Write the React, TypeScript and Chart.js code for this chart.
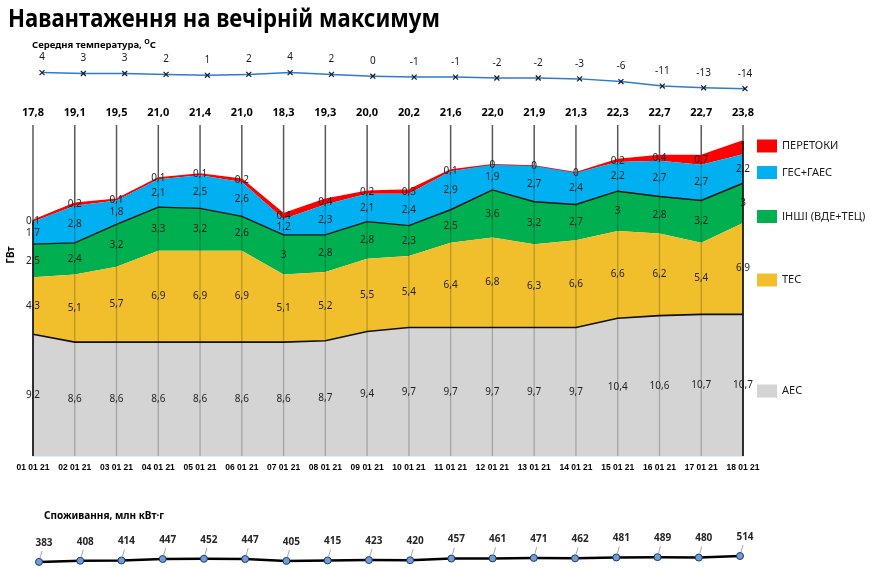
import React, { useEffect, useRef } from "react";
import { Chart, registerables } from "chart.js";

Chart.register(...registerables);

const dates = [
  "01 01 21", "02 01 21", "03 01 21", "04 01 21", "05 01 21", "06 01 21",
  "07 01 21", "08 01 21", "09 01 21", "10 01 21", "11 01 21", "12 01 21",
  "13 01 21", "14 01 21", "15 01 21", "16 01 21", "17 01 21", "18 01 21",
];
const temperature = [4, 3, 3, 2, 1, 2, 4, 2, 0, -1, -1, -2, -2, -3, -6, -11, -13, -14];
const totals = [17.8, 19.1, 19.5, 21.0, 21.4, 21.0, 18.3, 19.3, 20.0, 20.2, 21.6, 22.0, 21.9, 21.3, 22.3, 22.7, 22.7, 23.8];
const aes = [9.2, 8.6, 8.6, 8.6, 8.6, 8.6, 8.6, 8.7, 9.4, 9.7, 9.7, 9.7, 9.7, 9.7, 10.4, 10.6, 10.7, 10.7];
const tes = [4.3, 5.1, 5.7, 6.9, 6.9, 6.9, 5.1, 5.2, 5.5, 5.4, 6.4, 6.8, 6.3, 6.6, 6.6, 6.2, 5.4, 6.9];
const inshi = [2.5, 2.4, 3.2, 3.3, 3.2, 2.6, 3, 2.8, 2.8, 2.3, 2.5, 3.6, 3.2, 2.7, 3, 2.8, 3.2, 3];
const ges = [1.7, 2.8, 1.8, 2.1, 2.5, 2.6, 1.2, 2.3, 2.1, 2.4, 2.9, 1.9, 2.7, 2.4, 2.2, 2.7, 2.7, 2.2];
const peretoky = [0.1, 0.2, 0.1, 0.1, 0.1, 0.2, 0.4, 0.4, 0.2, 0.3, 0.1, 0, 0, 0, 0.2, 0.4, 0.7, 1];
const consumption = [383, 408, 414, 447, 452, 447, 405, 415, 423, 420, 457, 461, 471, 462, 481, 489, 480, 514];

const seriesNames = ["АЕС", "ТЕС", "ІНШІ (ВДЕ+ТЕЦ)", "ГЕС+ГАЕС", "ПЕРЕТОКИ"];
const seriesColors = ["#d4d4d4", "#f1bf2c", "#00b050", "#00b0f0", "#ff0000"];

const TITLE = "Навантаження на вечірній максимум";
const TEMP_TITLE = "Середня температура, ";
const CONS_TITLE = "Споживання, млн кВт·г";
const UNIT = "ГВт";

const FONT = '"Noto Sans", "Open Sans", sans-serif';
const fmt = (v: number) => String(v).replace(".", ",");
const fmt1 = (v: number) => v.toFixed(1).replace(".", ",");

export default function App() {
  const tRef = useRef<HTMLCanvasElement>(null);
  const mRef = useRef<HTMLCanvasElement>(null);
  const cRef = useRef<HTMLCanvasElement>(null);

  useEffect(() => {
    const tempPlugin = {
      id: "tempText",
      afterDatasetsDraw(chart: any) {
        const ctx = chart.ctx;
        ctx.save();
        ctx.fillStyle = "#000";
        ctx.textAlign = "left";
        ctx.textBaseline = "alphabetic";
        ctx.font = `bold 25px ${FONT}`;
        ctx.fillText(TITLE, 8, 27, 432);
        ctx.font = `bold 9.5px ${FONT}`;
        ctx.fillText(TEMP_TITLE, 32, 48, 116);
        const w = Math.min(ctx.measureText(TEMP_TITLE).width, 116);
        ctx.font = `bold 7px ${FONT}`;
        ctx.fillText("O", 32 + w, 44);
        const w2 = ctx.measureText("O").width;
        ctx.font = `bold 9.5px ${FONT}`;
        ctx.fillText("C", 32 + w + w2, 48);
        const meta = chart.getDatasetMeta(0);
        ctx.font = `10px ${FONT}`;
        ctx.fillStyle = "#1a1a1a";
        ctx.textAlign = "center";
        ctx.textBaseline = "middle";
        meta.data.forEach((p: any, i: number) => {
          ctx.fillText(String(temperature[i]), p.x, p.y - 15);
        });
        ctx.restore();
      },
    };

    const tChart = new Chart(tRef.current!, {
      type: "line",
      data: {
        labels: dates,
        datasets: [
          {
            data: temperature,
            borderColor: "#2e7bd0",
            borderWidth: 1.5,
            pointStyle: "crossRot",
            pointRadius: 3.5,
            pointBorderColor: "#1a1a1a",
            pointBorderWidth: 1.2,
            pointBackgroundColor: "transparent",
            tension: 0,
            clip: false as any,
          },
        ],
      },
      options: {
        responsive: false,
        animation: false,
        devicePixelRatio: 1,
        layout: { padding: { left: 42, right: 129, top: 60, bottom: 5 } },
        scales: {
          x: { display: false },
          y: { display: false, min: -20.8, max: 18.1 },
        },
        plugins: { legend: { display: false }, tooltip: { enabled: false } },
      },
      plugins: [tempPlugin],
    });

    const legendLayout = [
      { k: 4, y: 46 },
      { k: 3, y: 72.5 },
      { k: 2, y: 116.5 },
      { k: 1, y: 180 },
      { k: 0, y: 291 },
    ];

    const mainPlugin = {
      id: "mainDecor",
      afterDatasetsDraw(chart: any) {
        const ctx = chart.ctx;
        const area = chart.chartArea;
        const metas = [0, 1, 2, 3, 4].map((k) => chart.getDatasetMeta(k));
        const n = dates.length;
        ctx.save();
        // drop lines
        for (let i = 0; i < n; i++) {
          const x = metas[0].data[i].x;
          const top = metas[4].data[i].y;
          ctx.lineWidth = 1.5;
          ctx.strokeStyle = "#595959";
          ctx.beginPath();
          ctx.moveTo(x, area.top);
          ctx.lineTo(x, top);
          ctx.stroke();
          const edge = i === 0 || i === n - 1;
          ctx.strokeStyle = edge ? "#1a1a1a" : "rgba(0,0,0,0.22)";
          ctx.lineWidth = edge ? 1.8 : 1.3;
          ctx.beginPath();
          ctx.moveTo(x, top);
          ctx.lineTo(x, area.bottom);
          ctx.stroke();
        }
        // data labels
        ctx.font = `10px ${FONT}`;
        ctx.fillStyle = "#1f1f1f";
        ctx.textAlign = "center";
        ctx.textBaseline = "middle";
        const series = [aes, tes, inshi, ges, peretoky];
        for (let k = 0; k < 5; k++) {
          for (let i = 0; i < n; i++) {
            const p = metas[k].data[i];
            const bottom = k === 0 ? area.bottom : metas[k - 1].data[i].y;
            const y = (p.y + bottom) / 2;
            ctx.fillText(fmt(series[k][i]), p.x, y);
          }
        }
        // totals
        ctx.font = `bold 11px ${FONT}`;
        ctx.fillStyle = "#000";
        for (let i = 0; i < n; i++) {
          ctx.fillText(fmt1(totals[i]), metas[0].data[i].x, area.top - 12);
        }
        // legend
        ctx.textAlign = "left";
        ctx.font = `11px ${FONT}`;
        legendLayout.forEach((it) => {
          ctx.fillStyle = seriesColors[it.k];
          ctx.fillRect(757, it.y - 6.5, 20, 13);
          ctx.fillStyle = "#1a1a1a";
          ctx.fillText(seriesNames[it.k], 782, it.y);
        });
        // unit
        ctx.save();
        ctx.translate(11.5, 155);
        ctx.rotate(-Math.PI / 2);
        ctx.textAlign = "center";
        ctx.font = `bold 10px ${FONT}`;
        ctx.fillStyle = "#000";
        ctx.fillText(UNIT, 0, 0);
        ctx.restore();
        ctx.restore();
      },
    };

    const mk = (k: number, data: number[], border: string, bw: number) => ({
      label: seriesNames[k],
      data,
      backgroundColor: seriesColors[k],
      borderColor: border,
      borderWidth: bw,
      fill: k === 0 ? "origin" : "-1",
      pointRadius: 0,
      tension: 0,
    });

    const mChart = new Chart(mRef.current!, {
      type: "line",
      data: {
        labels: dates,
        datasets: [
          mk(0, aes, "#111111", 1.6),
          mk(1, tes, seriesColors[1], 0),
          mk(2, inshi, "#111111", 1.4),
          mk(3, ges, seriesColors[3], 0),
          mk(4, peretoky, "#ff0000", 1.5),
        ] as any,
      },
      options: {
        responsive: false,
        animation: false,
        devicePixelRatio: 1,
        layout: { padding: { left: 33, right: 131, top: 25, bottom: 0 } },
        scales: {
          x: {
            z: 1,
            grid: { display: false, drawTicks: false },
            border: { display: true, color: "#c5d9f1", width: 1.5 },
            ticks: {
              autoSkip: false,
              maxRotation: 0,
              padding: 7,
              color: "#000",
              font: { family: '"Liberation Sans", Arial, sans-serif', size: 8.5, weight: "bold" },
            },
            afterFit: (s: any) => {
              s.height = 24;
            },
          } as any,
          y: { display: false, stacked: true, min: 0, max: 25 },
        },
        plugins: { legend: { display: false }, tooltip: { enabled: false } },
      },
      plugins: [mainPlugin],
    });

    const consPlugin = {
      id: "consText",
      afterDatasetsDraw(chart: any) {
        const ctx = chart.ctx;
        ctx.save();
        ctx.font = `bold 10px ${FONT}`;
        ctx.fillStyle = "#000";
        ctx.textAlign = "left";
        ctx.textBaseline = "middle";
        ctx.fillText(CONS_TITLE, 44, 36, 124);
        const meta = chart.getDatasetMeta(0);
        ctx.textAlign = "center";
        ctx.fillStyle = "#262626";
        meta.data.forEach((p: any, i: number) => {
          ctx.strokeStyle = "#a6a6a6";
          ctx.lineWidth = 1;
          ctx.beginPath();
          ctx.moveTo(p.x + 1, p.y - 4);
          ctx.lineTo(p.x + 3, p.y - 11);
          ctx.stroke();
          ctx.fillText(String(consumption[i]), p.x + 5, p.y - 19);
        });
        ctx.restore();
      },
    };

    const cChart = new Chart(cRef.current!, {
      type: "line",
      data: {
        labels: dates,
        datasets: [
          {
            data: consumption,
            borderColor: "#000",
            borderWidth: 2.5,
            pointRadius: 3.5,
            pointBackgroundColor: "#6c9fd9",
            pointBorderColor: "#1f3864",
            pointBorderWidth: 1,
            tension: 0,
            clip: false as any,
          },
        ],
      },
      options: {
        responsive: false,
        animation: false,
        devicePixelRatio: 1,
        layout: { padding: { left: 39, right: 134, top: 50, bottom: 2 } },
        scales: {
          x: { display: false },
          y: { display: false, min: 336, max: 1093 },
        },
        plugins: { legend: { display: false }, tooltip: { enabled: false } },
      },
      plugins: [consPlugin],
    });

    return () => {
      tChart.destroy();
      mChart.destroy();
      cChart.destroy();
    };
  }, []);

  return (
    <div style={{ position: "absolute", left: 0, top: 0, width: 874, height: 569, background: "#fff", overflow: "hidden" }}>
      <canvas ref={tRef} width={874} height={100} style={{ position: "absolute", left: 0, top: 0, width: 874, height: 100 }} />
      <canvas ref={mRef} width={874} height={380} style={{ position: "absolute", left: 0, top: 100, width: 874, height: 380 }} />
      <canvas ref={cRef} width={874} height={89} style={{ position: "absolute", left: 0, top: 480, width: 874, height: 89 }} />
    </div>
  );
}
